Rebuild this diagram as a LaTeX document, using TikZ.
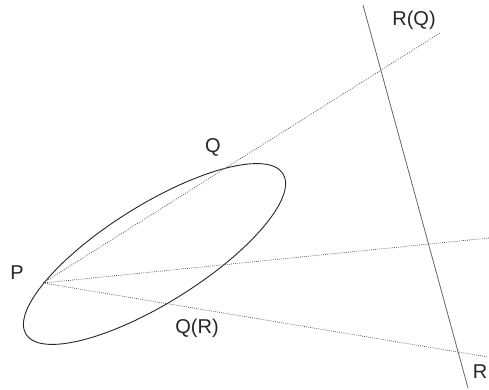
\documentclass[tikz,border=0pt]{standalone}
\usepackage{fontspec}
\setmainfont{Liberation Sans}
\begin{document}
\begin{tikzpicture}[x=1pt,y=-1pt,
  lbl/.style={font=\fontsize{20}{24}\selectfont, text=black!85, inner sep=0pt},
  ray/.style={draw=black!70, line width=0.7pt, dash pattern=on 0.8pt off 1.3pt},
  conic/.style={draw=black!85, line width=0.9pt},
  polar/.style={draw=black!60, line width=0.8pt}]
\useasboundingbox (0,0) rectangle (489,390);
\coordinate (C) at (154.5,254);
\coordinate (P) at (43,283);
\coordinate (E1) at (440,33);
\coordinate (E2) at (489,238);
\coordinate (E3) at (488,357);
\coordinate (Ltop) at (363,5);
\coordinate (Lbot) at (468,388);
\draw[conic, rotate around={32:(C)}] (C) ellipse [x radius=151.5, y radius=49];
\draw[ray] (P) -- (E1);
\draw[ray] (P) -- (E2);
\draw[ray] (P) -- (E3);
\draw[polar] (Ltop) -- (Lbot);
\node[lbl] (lP) at (17,273) {P};
\node[lbl] (lQ) at (213,147) {Q};
\node[lbl] (lQR) at (197,328) {Q(R)};
\node[lbl] (lRQ) at (414,20) {R(Q)};
\node[lbl] (lR) at (480,372) {R};
\end{tikzpicture}
\end{document}
